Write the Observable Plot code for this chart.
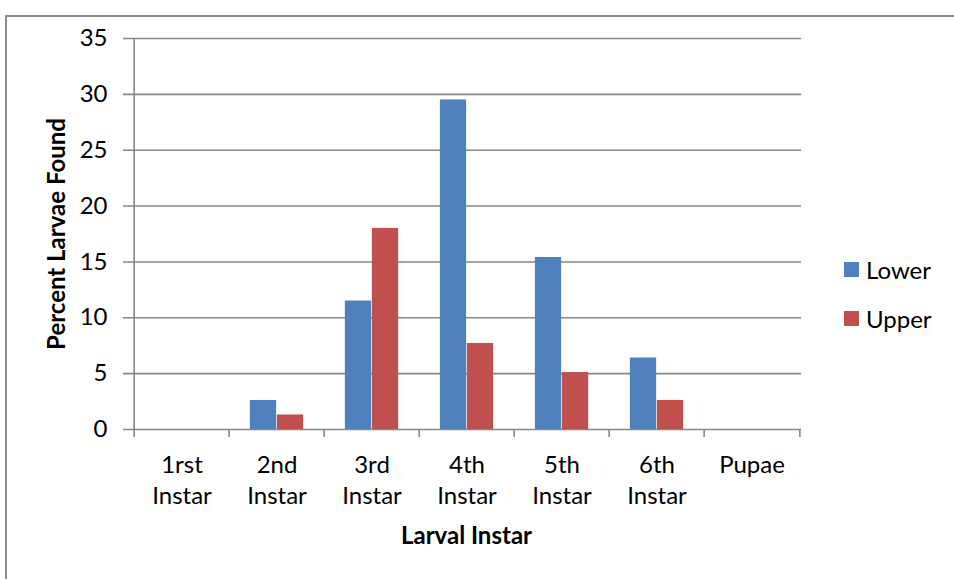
<!DOCTYPE html>
<html><head><meta charset="utf-8">
<script src="https://cdn.jsdelivr.net/npm/d3@7"></script>
<script src="https://cdn.jsdelivr.net/npm/@observablehq/plot@0.6"></script>
<style>
body{margin:0;background:#fff;}
#wrap{position:relative;width:954px;height:579px;overflow:hidden;font-family:Lato,"Open Sans",sans-serif;}
#wrap svg{position:absolute;left:0;top:0;}
#border{position:absolute;left:5px;top:15px;width:1000px;height:700px;border:2px solid #8a8a8a;box-sizing:border-box;}
#legend{position:absolute;left:844px;top:254px;font-size:24px;color:#000;}
.item{display:flex;align-items:center;height:30px;margin-bottom:19px;}
.sw{width:15px;height:15px;margin-right:7px;}
</style></head>
<body><div id="wrap"><div id="border"></div></div>
<script>
const categories = ["1rst Instar","2nd Instar","3rd Instar","4th Instar","5th Instar","6th Instar","Pupae"];
const series = ["Lower","Upper"];
const lowerValues = [0, 2.6, 11.5, 29.5, 15.4, 6.4, 0];
const upperValues = [0, 1.3, 18.0, 7.7, 5.1, 2.6, 0];
const yTicks = [0,5,10,15,20,25,30,35];
const colors = ["#4f81bd","#c0504d"];
const yTitle = "Percent Larvae Found";
const xTitle = "Larval Instar";

const rows = [];
categories.forEach((c,i)=>{
  rows.push({cat:c, series:"Lower", value:lowerValues[i]});
  rows.push({cat:c, series:"Upper", value:upperValues[i]});
});

const W = 954, H = 579, mL = 131, mR = 153, mT = 38, mB = 150;
const bw = (W - mL - mR) / categories.length;
const barW = 27;
const grid = "#878787";
const fs = 24;

const chart = Plot.plot({
  width: W, height: H,
  marginLeft: mL, marginRight: mR, marginTop: mT, marginBottom: mB,
  style: {fontFamily: "Lato, 'Open Sans', sans-serif", fontSize: fs + "px", color: "#000", background: "transparent"},
  x: {domain: categories, padding: 0, axis: null},
  y: {domain: [0,35], axis: null},
  color: {domain: series, range: colors},
  marks: [
    Plot.ruleY(yTicks, {y: d=>d, stroke: grid, strokeWidth: 1.6, insetLeft: -8}),
    Plot.ruleX([categories[0]], {x: d=>d, y1: 0, y2: 35, dx: -bw/2, stroke: grid, strokeWidth: 1.6}),
    Plot.axisX({tickSize: 8, text: null, label: null, dx: -bw/2, stroke: grid, strokeWidth: 1.6, strokeOpacity: 1}),
    Plot.axisX([categories[categories.length-1]], {tickSize: 8, text: null, label: null, dx: bw/2, stroke: grid, strokeWidth: 1.6, strokeOpacity: 1}),
    Plot.axisX({tickSize: 0, tickPadding: 21, lineHeight: 1.3, fontSize: fs, tickFormat: d => d.replace(" ", "\n"), label: null, fill: "#000"}),
    Plot.axisY(yTicks, {tickSize: 0, tickPadding: 24, fontSize: fs, label: null, fill: "#000"}),
    Plot.barY(rows.filter(d=>d.series==="Lower"), {x: "cat", y: "value", fill: "series", insetLeft: bw/2 - barW, insetRight: bw/2}),
    Plot.barY(rows.filter(d=>d.series==="Upper"), {x: "cat", y: "value", fill: "series", insetLeft: bw/2, insetRight: bw/2 - barW}),
    Plot.text([yTitle], {text: d=>d, frameAnchor: "left", rotate: -90, dx: -74, fontWeight: "bold", fontSize: fs, textAnchor: "middle", lineAnchor: "middle"}),
    Plot.text([xTitle], {text: d=>d, frameAnchor: "bottom", dy: 107, fontWeight: "bold", fontSize: fs, textAnchor: "middle", lineAnchor: "middle"})
  ]
});
const wrap = document.getElementById("wrap");
wrap.appendChild(chart);
const legend = document.createElement("div");
legend.id = "legend";
series.forEach((s,i)=>{
  const it = document.createElement("div"); it.className = "item";
  const sw = document.createElement("div"); sw.className = "sw"; sw.style.background = colors[i];
  const t = document.createElement("span"); t.textContent = s;
  it.appendChild(sw); it.appendChild(t); legend.appendChild(it);
});
wrap.appendChild(legend);
</script></body></html>
